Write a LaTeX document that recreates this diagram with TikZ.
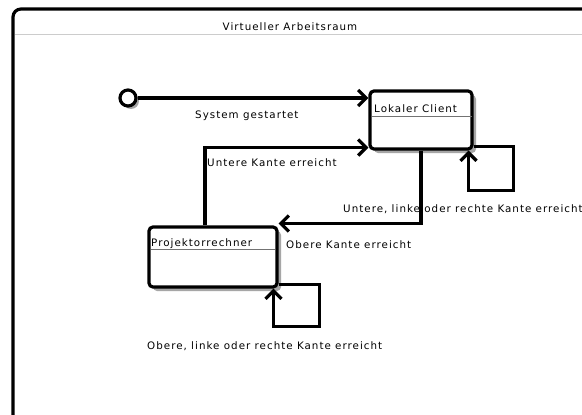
\documentclass[tikz,border=0pt]{standalone}
\usepackage{fontspec}
\setmainfont{DejaVu Sans}[LetterSpace=10]
\usetikzlibrary{arrows.meta}
\tikzset{
  thick line/.style={line width=3.2pt},
  arr/.style={thick line,-{Straight Barb[length=8pt,width=16pt,line width=3.2pt]}},
  statebox/.style={draw,line width=3.2pt,rounded corners=4pt,fill=white,inner sep=0pt},
  shade box/.style={fill=black!35,rounded corners=4pt},
  lbl/.style={font=\fontsize{10.3}{12}\selectfont,inner sep=0pt,anchor=west},
  sep/.style={draw=black!20,line width=0.8pt},
}
\begin{document}
\begin{tikzpicture}[x=1pt,y=-1pt]
\useasboundingbox (0,0) rectangle (582,415);
% outer frame
\fill[black!20,rounded corners=8pt] (15,11) rectangle (600,430);
\draw[line width=3.2pt,rounded corners=8pt,fill=white] (13,9) rectangle (600,430);
\node[font=\fontsize{10.3}{12}\selectfont,inner sep=0pt] (title) at (290,27) {Virtueller Arbeitsraum};
\draw[sep] (15,34) -- (582,34);
% Lokaler Client
\fill[shade box] (374,95) rectangle (476,153);
\node[statebox,minimum width=102pt,minimum height=58pt] (lc) at (421,120) {};
\draw[black!55,line width=0.6pt] (372,116) -- (472,116);
\node[lbl] (lct) at (374,109) {Lokaler Client};
% Projektorrechner
\fill[shade box] (153,231) rectangle (281,291);
\node[statebox,minimum width=128pt,minimum height=60pt] (pr) at (213,257) {};
\draw[black!55,line width=0.6pt] (151,249) -- (275,249);
\node[lbl] (prt) at (151,244) {Projektorrechner};
% initial state
\fill[black!35] (131,101) circle (8pt);
\node[draw,circle,line width=3.2pt,fill=white,minimum size=16pt,inner sep=0pt] (init) at (128,98) {};
% transitions
\draw[arr] (init.east) -- (lc.west |- init);
\node[lbl] (l1) at (195,116) {System gestartet};
\draw[arr] ([xshift=-8pt]pr.north) |- ([yshift=3pt]lc.south west);
\node[lbl] (l2) at (207,163) {Untere Kante erreicht};
\draw[arr] (lc.south) |- ([yshift=2pt]pr.north east);
\node[lbl] (l3) at (343,209) {Untere, linke oder rechte Kante erreicht};
\node[lbl] (l4) at (286,245) {Obere Kante erreicht};
\coordinate (lcA) at ([yshift=4pt]lc.south east);
\coordinate (lcB) at ([xshift=-5pt]lc.south east);
\draw[arr] (lcA) -- ++(40,0) -- ++(0,44) -- ++(-45,0) -- (lcB);
\coordinate (prA) at ([yshift=4pt]pr.south east);
\coordinate (prB) at ([xshift=-5pt]pr.south east);
\draw[arr] (prA) -- ++(41,0) -- ++(0,42) -- ++(-46,0) -- (prB);
\node[lbl] (l5) at (147,346) {Obere, linke oder rechte Kante erreicht};
\end{tikzpicture}
\end{document}
